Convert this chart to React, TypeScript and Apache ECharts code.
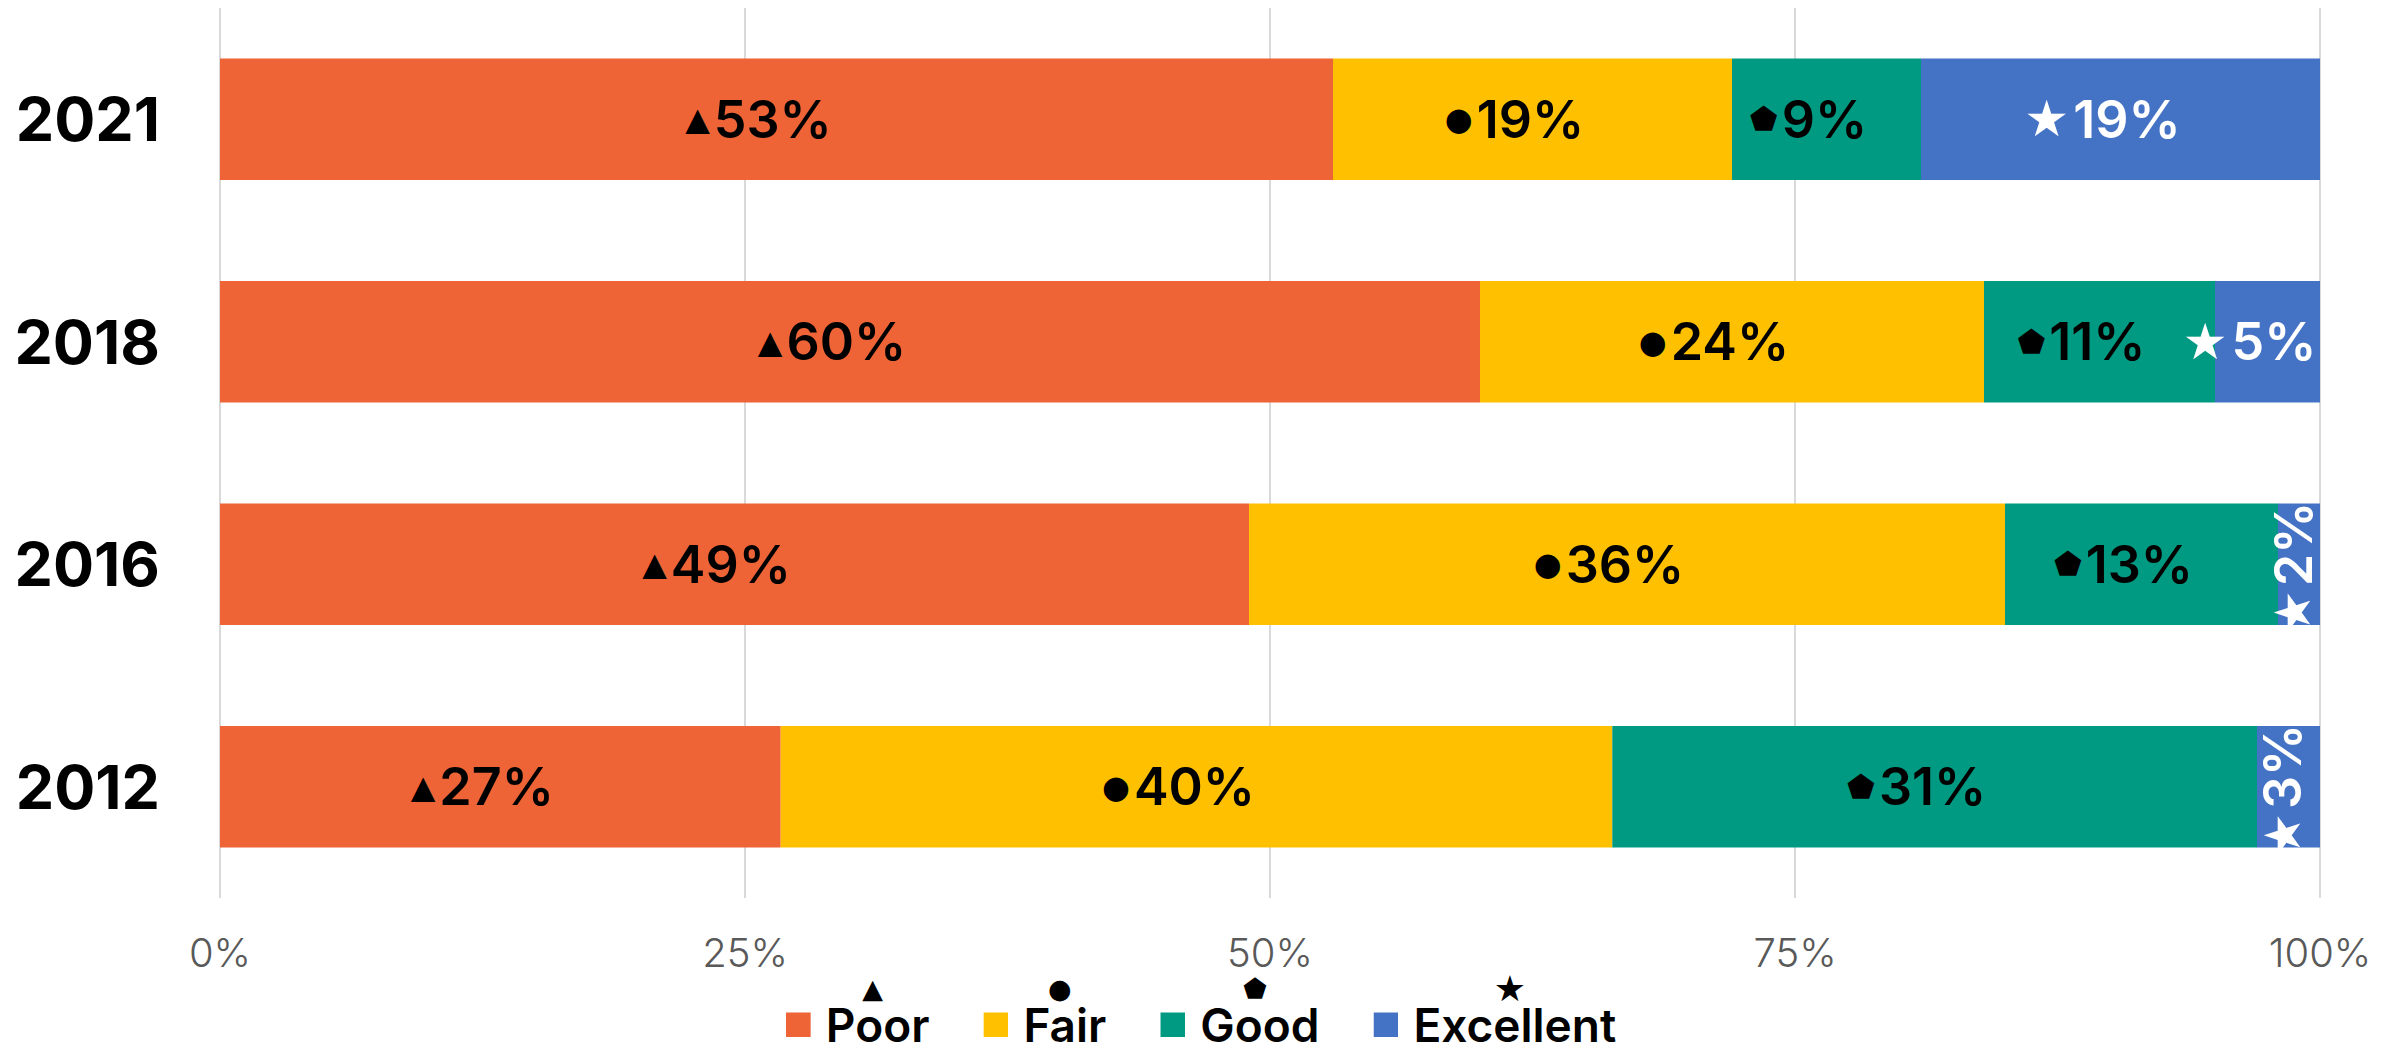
import React, { useEffect, useRef } from "react";
import * as echarts from "echarts";

const years = ["2021", "2018", "2016", "2012"];
const poor = [53, 60, 49, 26.7];
const fair = [19, 24, 36, 39.6];
const good = [9, 11, 13, 30.7];
const excellent = [19, 5, 2, 3];
const xTicks = [0, 25, 50, 75, 100];

const seriesNames = ["Poor", "Fair", "Good", "Excellent"];
const seriesSymbols = ["▲", "●", "⬟", "★"];
const symbolSizes = [32, 32, 32, 50];
const legendSymbolSizes = [27, 27, 27, 36];
const seriesColors = ["#EE6436", "#FFC000", "#009982", "#4472C4"];
const labelColors = ["#000000", "#000000", "#000000", "#FFFFFF"];

const FONT = "Inter, 'Noto Sans', sans-serif";
const SYMFONT = "'DejaVu Sans', sans-serif";

// legend icon: a 25x25 square placed in the lower part of a taller box,
// so that it lines up with the name line (the symbol line sits above it)
const ICON_W = 25;
const ICON_H = 52;
const ICON_Y = 27.5;
function legendIcon(color: string) {
  const svg = `<svg xmlns="http://www.w3.org/2000/svg" width="${ICON_W}" height="${ICON_H}" viewBox="0 0 ${ICON_W} ${ICON_H}"><rect x="0" y="${ICON_Y}" width="${ICON_W}" height="25" fill="${color}"/></svg>`;
  return "image://data:image/svg+xml;charset=utf-8," + encodeURIComponent(svg);
}

export default function App() {
  const ref = useRef<HTMLDivElement>(null);
  useEffect(() => {
    if (!ref.current) return;
    const chart = echarts.init(ref.current, null, { renderer: "svg" });
    const values = [poor, fair, good, excellent];
    const series = values.map((vals, si) => ({
      name: seriesNames[si],
      type: "bar",
      stack: "total",
      barWidth: "54.5%",
      itemStyle: { color: seriesColors[si] },
      label: {
        show: true,
        position: "inside",
        offset: [-18, 0],
        formatter: (p: any) => `{s|${seriesSymbols[si]}}{v|${Math.round(p.value)}%}`,
        rich: {
          s: { fontFamily: SYMFONT, fontSize: symbolSizes[si], color: labelColors[si], padding: [0, 4, 0, 0] },
          v: { fontFamily: FONT, fontSize: 52, fontWeight: 600, color: labelColors[si] },
        },
      },
      data: vals.map((v) =>
        v < 4
          ? { value: v, label: { rotate: 90, offset: [-4, -6] } }
          : { value: v }
      ),
    }));

    const legendRich: any = {
      n: { fontFamily: FONT, fontSize: 46, fontWeight: 600, lineHeight: 46, color: "#000", padding: [0, 0, 0, 10] },
    };
    seriesSymbols.forEach((s, i) => {
      legendRich["s" + i] = {
        fontFamily: SYMFONT,
        fontSize: legendSymbolSizes[i],
        lineHeight: 28,
        align: "center",
        color: "#000",
      };
    });

    const option: any = {
      animation: false,
      backgroundColor: "#ffffff",
      grid: { left: 220, right: 82, top: 8, bottom: 153, containLabel: false },
      xAxis: {
        type: "value",
        min: 0,
        max: 100,
        interval: 25,
        axisLine: { show: false },
        axisTick: { show: false },
        splitLine: { show: true, lineStyle: { color: "#d9d9d9", width: 2 } },
        axisLabel: {
          margin: 34,
          fontFamily: FONT,
          fontSize: 40,
          fontWeight: 300,
          color: "#595959",
          formatter: (v: number) => (xTicks.includes(v) ? `${v}%` : ""),
        },
      },
      yAxis: {
        type: "category",
        data: years,
        inverse: true,
        axisLine: { show: false },
        axisTick: { show: false },
        axisLabel: {
          margin: 60,
          fontFamily: FONT,
          fontSize: 61,
          fontWeight: 700,
          color: "#000000",
        },
      },
      legend: {
        show: true,
        left: "center",
        top: 970,
        padding: 0,
        itemWidth: ICON_W,
        itemHeight: ICON_H,
        itemGap: 54,
        data: seriesNames.map((n, i) => ({ name: n, icon: legendIcon(seriesColors[i]) })),
        formatter: (name: string) => {
          const i = seriesNames.indexOf(name);
          return `{s${i}|${seriesSymbols[i]}}\n{n|${name}}`;
        },
        textStyle: { rich: legendRich },
      },
      series,
    };
    chart.setOption(option);
    return () => chart.dispose();
  }, []);
  return (
    <div
      ref={ref}
      style={{ position: "fixed", left: 0, top: 0, width: 2402, height: 1051 }}
    />
  );
}
